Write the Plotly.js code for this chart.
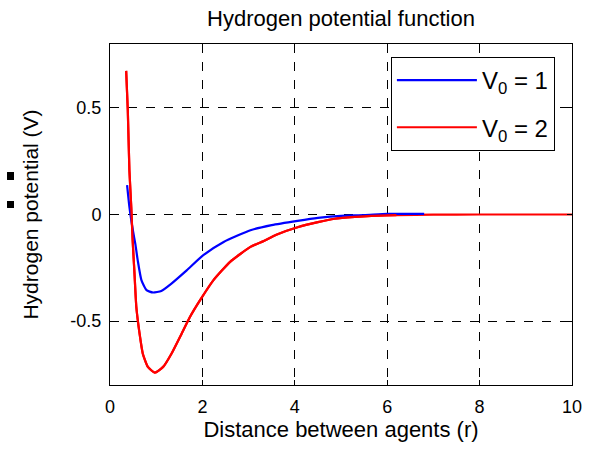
<!DOCTYPE html>
<html>
<head>
<meta charset="utf-8">
<script src="https://cdn.plot.ly/plotly-3.0.1.min.js"></script>
<style>html,body{margin:0;padding:0;background:#fff;}#chart{width:594px;height:451px;}</style>
</head>
<body>
<div id="chart"></div>
<script>
var redX = [0.35,0.385,0.42,0.46,0.49,0.53,0.57,0.64,0.71,0.82,0.97,1.15,1.33,1.55,1.73,1.95,2.24,2.6,3.04,3.33,3.6,4.06,4.5,4.86,5.3,5.66,6.2,7,8,9,10];
var redY = [0.674,0.49,0.208,0.036,-0.12,-0.277,-0.434,-0.559,-0.653,-0.715,-0.742,-0.715,-0.653,-0.559,-0.481,-0.402,-0.308,-0.222,-0.152,-0.124,-0.095,-0.06,-0.036,-0.02,-0.011,-0.006,-0.003,-0.001,0,0,0];
var blueX = [0.37,0.42,0.5,0.55,0.6,0.68,0.79,0.93,1.11,1.33,1.66,2.02,2.46,3.04,3.5,4.06,4.5,5.0,5.5,6,6.8];
var blueY = [0.138,0.036,-0.08,-0.14,-0.215,-0.308,-0.355,-0.366,-0.359,-0.324,-0.262,-0.191,-0.129,-0.074,-0.05,-0.03,-0.016,-0.006,-0.003,0.003,0.003];
var xTicks = [0,2,4,6,8,10];
var yTicks = [-0.5,0,0.5];
var yTickLabels = ['-0.5','0','0.5'];
var names = ['V<sub>0</sub> = 1','V<sub>0</sub> = 2'];

var font = 'Liberation Sans, Arial, sans-serif';
var traces = [
  {x: redX, y: redY, type: 'scatter', mode: 'lines', name: names[1], legendgroup: 'b', showlegend: false,
   line: {color: '#ff0000', width: 2.2, shape: 'spline', smoothing: 0.5}},
  {x: blueX, y: blueY, type: 'scatter', mode: 'lines', name: names[0], legendgroup: 'a',
   line: {color: '#0000ff', width: 2.2, shape: 'spline', smoothing: 0.5}},
  {x: redX.slice(0, 27), y: redY.slice(0, 27), type: 'scatter', mode: 'lines', name: names[1], legendgroup: 'b',
   line: {color: '#ff0000', width: 2.2, shape: 'spline', smoothing: 0.5}}
];
var axisCommon = {
  showline: true, linecolor: '#000', linewidth: 1, mirror: 'ticks',
  ticks: 'inside', ticklen: 5, tickcolor: '#000', tickwidth: 1,
  showgrid: true, gridcolor: '#000', griddash: 'dash', gridwidth: 1,
  zeroline: false, tickfont: {family: font, size: 18, color: '#000'}
};
var layout = {
  width: 594, height: 451,
  margin: {l: 110, r: 22, t: 44, b: 66},
  paper_bgcolor: '#fff', plot_bgcolor: '#fff',
  title: {text: 'Hydrogen potential function', font: {family: font, size: 22, color: '#000'},
          x: 0.5, xref: 'paper', xanchor: 'center', y: 0.96, yanchor: 'middle'},
  xaxis: Object.assign({}, axisCommon, {
    range: [0, 10], tickvals: xTicks, ticktext: xTicks.map(String), ticklabelstandoff: 5,
    title: {text: 'Distance between agents (r)', font: {family: font, size: 22, color: '#000'}, standoff: 3}
  }),
  yaxis: Object.assign({}, axisCommon, {
    range: [-0.8, 0.8], tickvals: yTicks, ticktext: yTickLabels, ticklabelstandoff: 4,
    title: {text: 'Hydrogen potential (V)', font: {family: font, size: 21, color: '#000'}, standoff: 26}
  }),
  showlegend: true,
  legend: {
    x: 0.608, y: 0.962, xanchor: 'left', yanchor: 'top',
    bgcolor: '#fff', bordercolor: '#000', borderwidth: 1,
    font: {family: font, size: 24, color: '#000'},
    itemwidth: 80, traceorder: 'grouped', tracegroupgap: 13
  },
  shapes: [
    {type: 'rect', xref: 'paper', yref: 'paper', x0: -0.2229, x1: -0.2078, y0: 0.6012, y1: 0.6246,
     fillcolor: '#000', line: {width: 0}},
    {type: 'rect', xref: 'paper', yref: 'paper', x0: -0.2229, x1: -0.2078, y0: 0.5191, y1: 0.5396,
     fillcolor: '#000', line: {width: 0}}
  ]
};
Plotly.newPlot('chart', traces, layout, {staticPlot: true, displayModeBar: false});
</script>
</body>
</html>
